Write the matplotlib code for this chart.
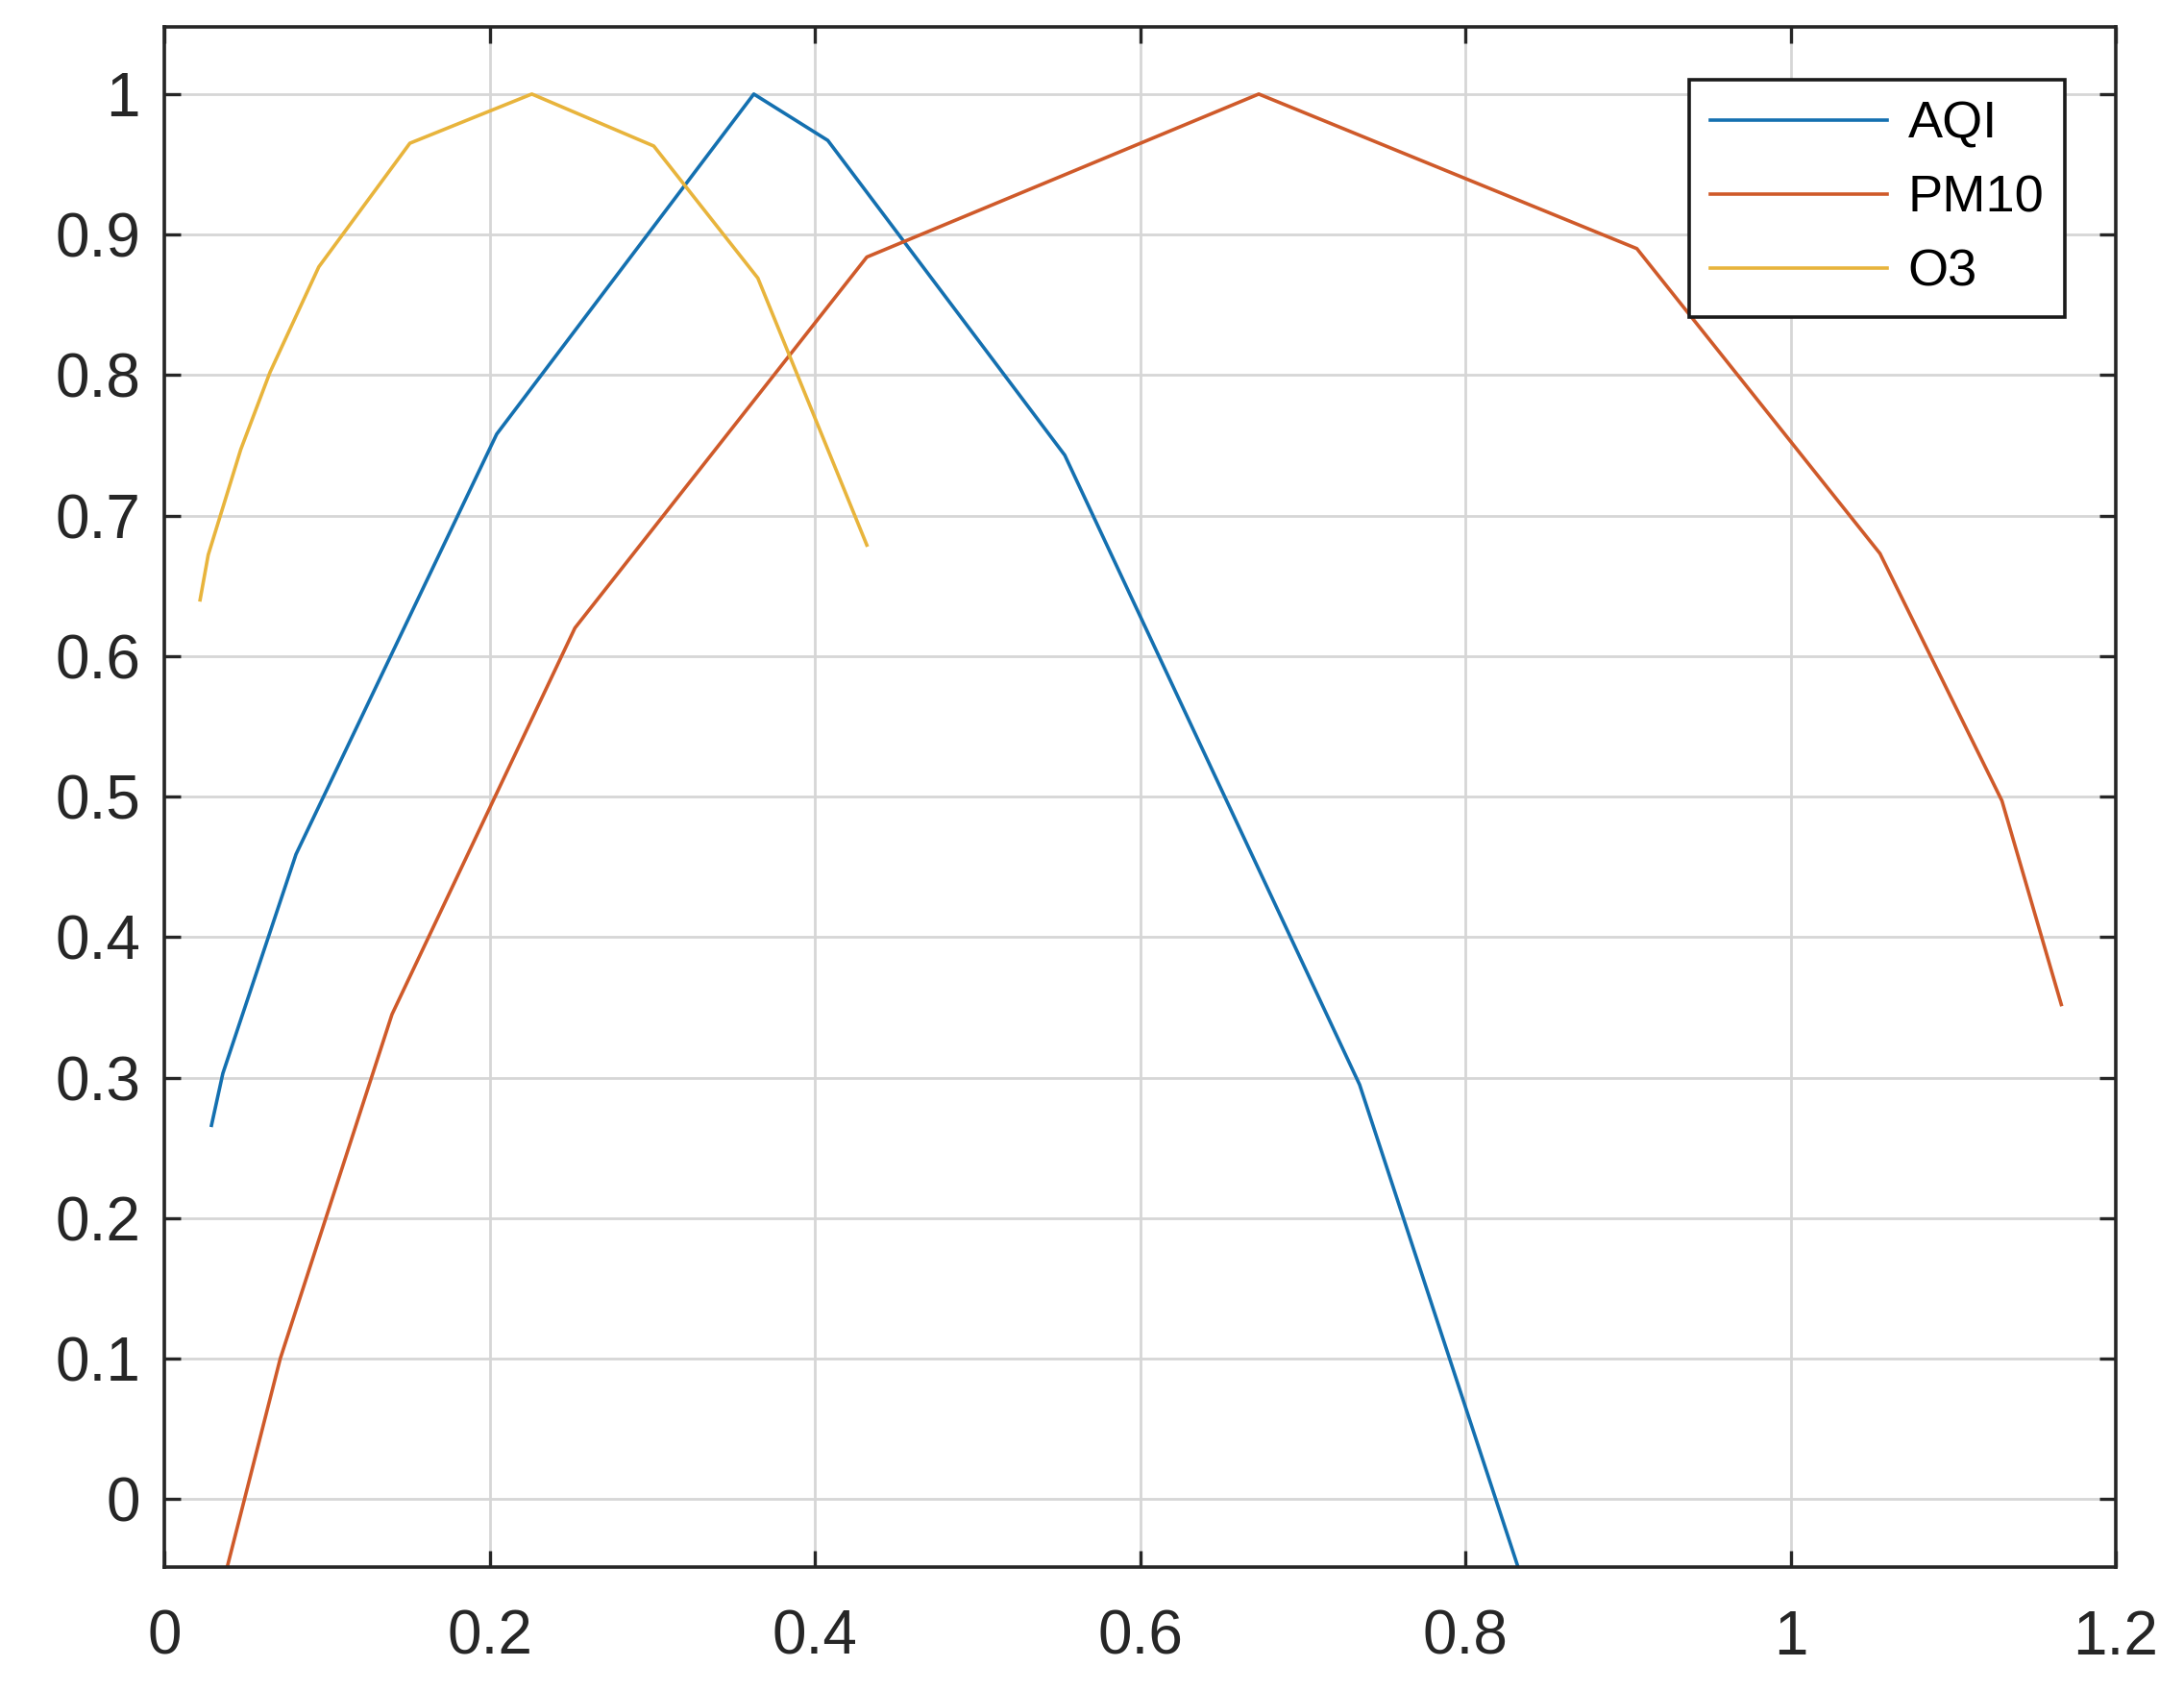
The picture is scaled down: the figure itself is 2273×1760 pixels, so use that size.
import numpy as np
import matplotlib
matplotlib.use("Agg")
import matplotlib.pyplot as plt
from matplotlib.ticker import FuncFormatter

# ================= data =================
aqi_x = [0.029, 0.036, 0.081, 0.2044, 0.3625, 0.408, 0.5537, 0.735, 0.84]
aqi_y = [0.266, 0.303, 0.459, 0.758, 1.000, 0.967, 0.743, 0.295, -0.075]

pm10_x = [0.037, 0.0713, 0.140, 0.2525, 0.432, 0.673, 0.9055, 1.055, 1.130, 1.1665]
pm10_y = [-0.056, 0.100, 0.345, 0.620, 0.884, 1.000, 0.890, 0.673, 0.497, 0.352]

o3_x = [0.022, 0.027, 0.047, 0.065, 0.095, 0.151, 0.226, 0.301, 0.365, 0.432]
o3_y = [0.640, 0.672, 0.747, 0.802, 0.877, 0.965, 1.000, 0.963, 0.869, 0.679]

series_names = ["AQI", "PM10", "O3"]
series_colors = ["#1470b0", "#cf5a2a", "#e8b43c"]

x_ticks = [0, 0.2, 0.4, 0.6, 0.8, 1.0, 1.2]
y_ticks = [0, 0.1, 0.2, 0.3, 0.4, 0.5, 0.6, 0.7, 0.8, 0.9, 1.0]
# ===============================================================

plt.rcParams['font.family'] = ['Liberation Sans', 'DejaVu Sans']

W, H, DPI = 2273, 1760, 200
fig = plt.figure(figsize=(W / DPI, H / DPI), dpi=DPI)
fig.patch.set_facecolor('white')

# axes box in pixels: x 171..2202, y 28..1630
ax = fig.add_axes([171 / W, 1 - 1630.5 / H, (2202 - 171) / W, (1630.5 - 27.7) / H])

for xs, ys, name, col in zip([aqi_x, pm10_x, o3_x], [aqi_y, pm10_y, o3_y],
                             series_names, series_colors):
    ax.plot(xs, ys, color=col, linewidth=1.3, label=name)

ax.set_xlim(0, 1.2)
ax.set_ylim(-0.048, 1.048)
ax.set_xticks(x_ticks)
ax.set_yticks(y_ticks)
fmt = FuncFormatter(lambda v, p: f"{v:g}")
ax.xaxis.set_major_formatter(fmt)
ax.yaxis.set_major_formatter(fmt)

ax.grid(True, color='#d6d6d6', linewidth=1.0)
ax.set_axisbelow(True)
ax.tick_params(direction='in', top=True, right=True, length=6, width=1.2,
               labelsize=23, colors='#262626')
ax.tick_params(axis='x', pad=16)
ax.tick_params(axis='y', pad=9)
for s in ax.spines.values():
    s.set_linewidth(1.3)
    s.set_color('#262626')

leg = ax.legend(loc='upper right', bbox_to_anchor=(2149 / W, 1 - 83 / H),
                bbox_transform=fig.transFigure, fontsize=19.5, frameon=True,
                fancybox=False, framealpha=1, edgecolor='#1a1a1a',
                handlelength=3.4, handletextpad=0.4, labelspacing=0.5,
                borderpad=0.4, borderaxespad=0)
leg.get_frame().set_linewidth(1.3)

fig.savefig("out.png", dpi=DPI)
